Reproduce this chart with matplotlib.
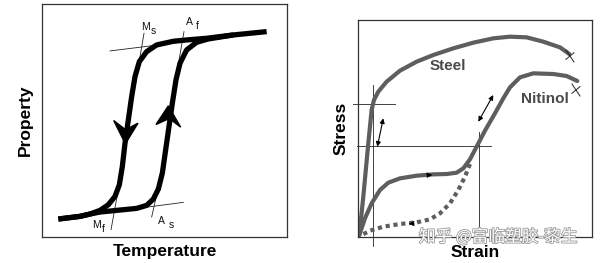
import matplotlib
matplotlib.use("Agg")
import matplotlib.pyplot as plt
import matplotlib.patheffects as pe
from matplotlib.patches import Polygon

# ---- left panel: hysteresis (coords, 3x pixel units)
cool_x = [800, 700, 620, 560, 520, 470, 440, 418, 405, 395, 385, 375, 367, 358, 345, 325, 300, 270, 240, 175]
cool_y = [95, 105, 115, 120, 124, 135, 155, 185, 230, 290, 360, 430, 500, 555, 590, 615, 632, 643, 650, 658]
heat_x = [175, 240, 270, 300, 360, 410, 440, 460, 475, 487, 497, 507, 517, 528, 540, 560, 590, 625, 700]
heat_y = [658, 650, 643, 637, 631, 626, 617, 598, 568, 520, 450, 380, 310, 240, 190, 150, 127, 117, 105]
# thin construction lines (x0, y0, x1, y1)
left_guides = [
    (330, 153, 620, 117),   # upper tangent
    (420, 625, 550, 608),   # lower tangent
    (432, 100, 398, 300),   # Ms
    (552, 95, 518, 290),    # Af
    (333, 690, 362, 530),   # Mf
    (455, 652, 478, 550),   # As
]
left_labels = [("M", "s", 422, 82), ("A", "f", 558, 65), ("M", "f", 276, 675), ("A", "s", 475, 665)]
down_arrow = [(341, 362), (377, 390), (414, 370), (376, 432)]
up_arrow = [(468, 374), (505, 318), (542, 382), (508, 356)]

# ---- right panel: stress-strain
steel_x = [178, 190, 205, 215, 222, 235, 260, 300, 350, 400, 460, 520, 580, 630, 680, 730, 780, 808]
steel_y = [705, 590, 430, 330, 300, 275, 245, 212, 185, 165, 145, 128, 115, 110, 112, 125, 142, 162]
niti_x = [178, 195, 215, 240, 265, 300, 350, 400, 440, 470, 490, 510, 530, 555, 585, 610, 630, 660, 700, 760, 800, 832]
niti_y = [705, 655, 610, 570, 548, 535, 527, 523, 522, 518, 505, 478, 440, 392, 340, 295, 262, 232, 220, 222, 228, 243]
unload_x = [510, 495, 475, 450, 420, 390, 350, 300, 250, 210, 185]
unload_y = [492, 530, 570, 610, 640, 658, 667, 672, 680, 692, 705]
right_guides = [
    (158, 312, 285, 312),
    (172, 438, 572, 438),
    (218, 255, 218, 738),
    (538, 395, 538, 710),
]
double_arrows = [((250, 355), (232, 440)), ((580, 285), (535, 365))]
breaks = [(810, 168), (828, 270)]

plt.rcParams["font.family"] = ["Liberation Sans", "DejaVu Sans"]
fig = plt.figure(figsize=(6, 2.63), dpi=100)
fig.patch.set_facecolor("white")

# left axes
ax1 = fig.add_axes([41.7 / 600, 26 / 263, 245.6 / 600, 233 / 263])
ax1.set_xlim(125, 862)
ax1.set_ylim(712, 12)
ax1.set_xticks([]); ax1.set_yticks([])
for s in ax1.spines.values():
    s.set_linewidth(0.9); s.set_color("#333333")

for x0, y0, x1, y1 in left_guides:
    ax1.plot([x0, x1], [y0, y1], color="#222222", lw=0.6, clip_on=False)
ax1.plot(cool_x, cool_y, color="black", lw=3.8, solid_capstyle="butt", solid_joinstyle="round")
ax1.plot(heat_x, heat_y, color="black", lw=3.8, solid_capstyle="butt", solid_joinstyle="round")
ax1.add_patch(Polygon(down_arrow, closed=True, color="black"))
ax1.add_patch(Polygon(up_arrow, closed=True, color="black"))
for big, sub, x, y in left_labels:
    ax1.text(x, y, big, fontsize=7.5, ha="left", va="center", color="#111111")
    ax1.text(x + 30, y + 12, sub, fontsize=7.5, ha="left", va="center", color="#111111")
ax1.set_ylabel("Property", fontsize=12.5, fontweight="bold", labelpad=6)
ax1.set_xlabel("Temperature", fontsize=12.5, fontweight="bold", labelpad=5)

# right axes
ax2 = fig.add_axes([358.3 / 600, 26.3 / 263, 234 / 600, 216.7 / 263])
ax2.set_xlim(175, 877)
ax2.set_ylim(710, 60)
ax2.set_xticks([]); ax2.set_yticks([])
for s in ax2.spines.values():
    s.set_linewidth(0.9); s.set_color("#333333")

gray = "#5e5e5e"
for x0, y0, x1, y1 in right_guides:
    ax2.plot([x0, x1], [y0, y1], color="#222222", lw=0.6, clip_on=False)
ax2.plot(steel_x, steel_y, color=gray, lw=3.0, solid_capstyle="round", solid_joinstyle="round")
ax2.plot(niti_x, niti_y, color=gray, lw=3.0, solid_capstyle="round", solid_joinstyle="round")
ax2.plot(unload_x, unload_y, color=gray, lw=3.0, linestyle=(0, (1.0, 0.9)), solid_capstyle="butt")
for bx, by in breaks:
    ax2.plot([bx - 12, bx + 12], [by - 18, by + 18], color="#222222", lw=0.7)
    ax2.plot([bx - 12, bx + 12], [by + 10, by - 10], color="#222222", lw=0.7)
for p0, p1 in double_arrows:
    ax2.annotate("", xy=p0, xytext=p1,
                 arrowprops=dict(arrowstyle="<|-|>", color="black", lw=0.8,
                                 mutation_scale=7, shrinkA=0, shrinkB=0))
ax2.annotate("", xy=(405, 524), xytext=(375, 526),
             arrowprops=dict(arrowstyle="-|>", color="black", lw=0.5, mutation_scale=8))
ax2.annotate("", xy=(318, 672), xytext=(350, 670),
             arrowprops=dict(arrowstyle="-|>", color="black", lw=0.5, mutation_scale=8))
ax2.text(445, 198, "Steel", fontsize=11, fontweight="bold", color="#4a4a4a", ha="center", va="center")
ax2.text(735, 298, "Nitinol", fontsize=11, fontweight="bold", color="#4a4a4a", ha="center", va="center")
ax2.set_ylabel("Stress", fontsize=12.5, fontweight="bold", labelpad=7)
ax2.set_xlabel("Strain", fontsize=12.5, fontweight="bold", labelpad=6)

fig.text(498 / 600, 1 - 237 / 263, "知乎 @富临塑胶-黎生", fontsize=12, ha="center", va="center",
         color="white", family=["Noto Sans CJK SC", "DejaVu Sans"],
         path_effects=[pe.withStroke(linewidth=1.2, foreground="#9a9a9a")])

fig.savefig("out.png", dpi=100, facecolor="white")
